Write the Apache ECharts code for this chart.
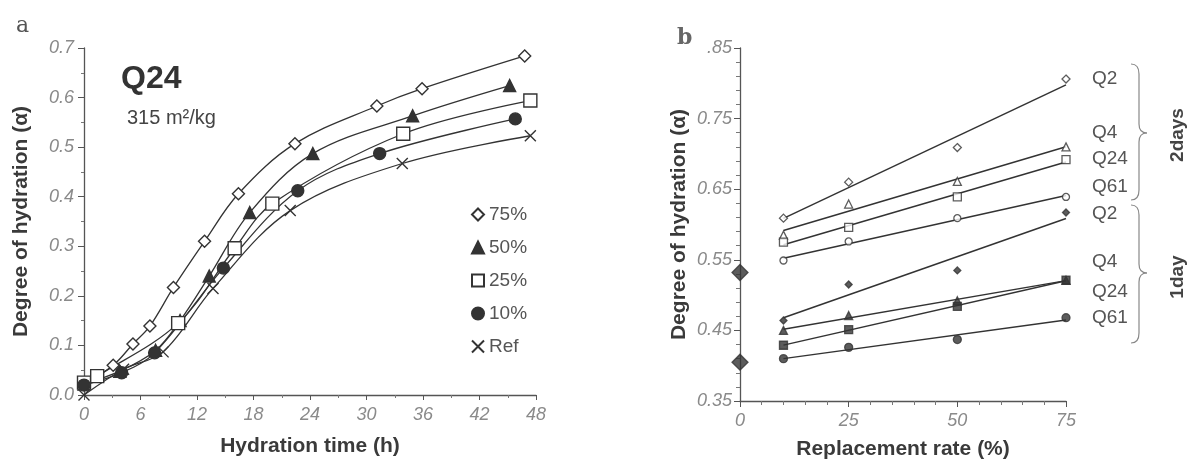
<!DOCTYPE html>
<html>
<head>
<meta charset="utf-8">
<script src="https://cdn.jsdelivr.net/npm/echarts@6/dist/echarts.min.js"></script>
<style>
  html, body { margin: 0; padding: 0; background: #fff; }
  #chart { width: 1200px; height: 469px; }
</style>
</head>
<body>
<div id="chart"></div>
<script>
// panel a: hydration time (h) vs degree of hydration, Q24 cement
const t75 = [0, 3.1, 5.2, 7.0, 9.5, 12.8, 16.4, 22.4, 31.1, 35.9, 46.8]
const a75 = [0.022, 0.06, 0.103, 0.139, 0.217, 0.31, 0.406, 0.507, 0.583, 0.618, 0.684]
const t50 = [0, 3.8, 7.6, 10.2, 13.3, 17.6, 24.3, 34.9, 45.2]
const a50 = [0.022, 0.048, 0.09, 0.15, 0.24, 0.368, 0.487, 0.563, 0.624]
const t25 = [0, 1.4, 10, 16, 20, 33.9, 47.4]
const a25 = [0.025, 0.038, 0.145, 0.296, 0.386, 0.527, 0.594]
const t10 = [0, 4, 7.5, 14.8, 22.7, 31.4, 45.8]
const a10 = [0.02, 0.045, 0.085, 0.256, 0.412, 0.487, 0.557]
const tRef = [0, 4.2, 8.4, 13.7, 21.9, 33.8, 47.4]
const aRef = [0, 0.052, 0.087, 0.215, 0.372, 0.467, 0.523]

// panel b: replacement rate (%) vs degree of hydration
const rates = [10, 25, 50, 75]
const q2Days2 = [0.609, 0.66, 0.709, 0.806]
const q4Days2 = [0.585, 0.629, 0.661, 0.71]
const q24Days2 = [0.575, 0.596, 0.639, 0.692]
const q61Days2 = [0.549, 0.576, 0.609, 0.639]
const q2Day1 = [0.464, 0.515, 0.535, 0.617]
const q4Day1 = [0.45, 0.471, 0.492, 0.521]
const q24Day1 = [0.429, 0.451, 0.484, 0.521]
const q61Day1 = [0.41, 0.426, 0.437, 0.468]
const refPoints = [0.532, 0.405]

const FONT = '"Liberation Sans", Arial, sans-serif'
const INK = '#333'
const TICK = '#8a8a8a'

const pairs = (xs, ys) => xs.map((x, i) => [x, ys[i]])

function fitLine(xs, ys) {
  const n = xs.length
  const mx = xs.reduce((s, v) => s + v, 0) / n
  const my = ys.reduce((s, v) => s + v, 0) / n
  let sxy = 0, sxx = 0
  xs.forEach((x, i) => { sxy += (x - mx) * (ys[i] - my); sxx += (x - mx) ** 2 })
  const k = sxy / sxx
  const x0 = xs[0], x1 = xs[n - 1]
  return [[x0, my + k * (x0 - mx)], [x1, my + k * (x1 - mx)]]
}

const xPath = 'path://M0,0L10,10M10,0L0,10'

const axisLabelStyle = { color: TICK, fontStyle: 'italic', fontSize: 18, fontFamily: FONT }
const axisNameStyle = { color: '#3a3a3a', fontWeight: 'bold', fontSize: 21, fontFamily: FONT }

function curve(name, xs, ys, symbol, size, filled) {
  return {
    name, type: 'line', xAxisIndex: 0, yAxisIndex: 0,
    data: pairs(xs, ys), smooth: 0.35, clip: false,
    symbol, symbolSize: size, showAllSymbol: true,
    lineStyle: { color: INK, width: 1.3 },
    itemStyle: { color: filled ? INK : (symbol === xPath ? 'transparent' : '#fff'), borderColor: INK, borderWidth: 1.4 },
    z: 3
  }
}

function points(xs, ys, symbol, size, filled) {
  return {
    type: 'scatter', xAxisIndex: 1, yAxisIndex: 1,
    data: pairs(xs, ys), symbol, symbolSize: size,
    itemStyle: { color: filled ? INK : '#fff', borderColor: INK, borderWidth: 1.3 },
    z: 4
  }
}

function fit(label, xs, ys, dy) {
  return {
    type: 'line', xAxisIndex: 1, yAxisIndex: 1,
    data: fitLine(xs, ys), symbol: 'none',
    lineStyle: { color: INK, width: 1.5 },
    endLabel: {
      show: true, formatter: label, offset: [18, dy],
      color: '#555', fontSize: 19, fontFamily: FONT
    },
    z: 2
  }
}

// curly brace drawn from curves and lines
function brace(x, top, tip, bottom) {
  const s = { fill: 'none', stroke: '#888', lineWidth: 1.2 }
  const b = x + 8, t = x + 16
  return {
    type: 'group', silent: true,
    children: [
      { type: 'bezierCurve', shape: { x1: x, y1: top, cpx1: b, cpy1: top, x2: b, y2: top + 10 }, style: s },
      { type: 'line', shape: { x1: b, y1: top + 10, x2: b, y2: tip - 9 }, style: s },
      { type: 'bezierCurve', shape: { x1: b, y1: tip - 9, cpx1: b, cpy1: tip, x2: t, y2: tip }, style: s },
      { type: 'bezierCurve', shape: { x1: t, y1: tip, cpx1: b, cpy1: tip, x2: b, y2: tip + 9 }, style: s },
      { type: 'line', shape: { x1: b, y1: tip + 9, x2: b, y2: bottom - 10 }, style: s },
      { type: 'bezierCurve', shape: { x1: b, y1: bottom - 10, cpx1: b, cpy1: bottom, x2: x, y2: bottom }, style: s }
    ]
  }
}

const chart = echarts.init(document.getElementById('chart'))

chart.setOption({
  backgroundColor: '#fff',
  animation: false,
  textStyle: { fontFamily: FONT },
  title: [
    { text: 'a', left: 11, top: 10, textStyle: { fontFamily: 'DejaVu Serif, serif', fontSize: 22, fontWeight: 'normal', color: '#555' } },
    { text: 'b', left: 672, top: 22, textStyle: { fontFamily: 'DejaVu Serif, serif', fontSize: 22, fontWeight: 'bold', color: '#666' } },
    { text: 'Q24', left: 116, top: 58, textStyle: { fontSize: 32, fontWeight: 'bold', color: '#333', fontFamily: FONT } },
    { text: '315 m²/kg', left: 122, top: 103, textStyle: { fontSize: 20, fontWeight: 'normal', color: '#444', fontFamily: FONT } }
  ],
  legend: {
    orient: 'vertical', left: 466, top: 200, itemGap: 14,
    itemWidth: 12, itemHeight: 12,
    textStyle: { color: '#555', fontSize: 19, fontFamily: FONT },
    data: [
      { name: '75%', icon: 'diamond' },
      { name: '50%', icon: 'triangle' },
      { name: '25%', icon: 'rect' },
      { name: '10%', icon: 'circle' },
      { name: 'Ref', icon: xPath }
    ]
  },
  grid: [
    { left: 84, top: 48, width: 452, height: 347 },
    { left: 740, top: 48, width: 326, height: 353 }
  ],
  xAxis: [
    {
      gridIndex: 0, type: 'value', min: 0, max: 48, interval: 6,
      name: 'Hydration time (h)', nameLocation: 'middle', nameGap: 41, nameTextStyle: axisNameStyle,
      axisLine: { lineStyle: { color: '#555', width: 1.3 } },
      axisTick: { inside: false, length: 5, lineStyle: { color: '#555' } },
      minorTick: { show: true, splitNumber: 2, length: 3, lineStyle: { color: '#777' } },
      axisLabel: { ...axisLabelStyle, margin: 11 },
      splitLine: { show: false }
    },
    {
      gridIndex: 1, type: 'value', min: 0, max: 75, interval: 25,
      name: 'Replacement rate (%)', nameLocation: 'middle', nameGap: 38, nameTextStyle: axisNameStyle,
      axisLine: { lineStyle: { color: '#555', width: 1.3 } },
      axisTick: { length: 6, lineStyle: { color: '#555' } },
      minorTick: { show: true, splitNumber: 5, length: 4, lineStyle: { color: '#777' } },
      axisLabel: { ...axisLabelStyle, margin: 11 },
      splitLine: { show: false }
    }
  ],
  yAxis: [
    {
      gridIndex: 0, type: 'value', min: 0, max: 0.7, interval: 0.1,
      name: 'Degree of hydration (α)', nameLocation: 'middle', nameGap: 52, nameTextStyle: axisNameStyle,
      axisLine: { show: true, lineStyle: { color: '#555', width: 1.3 } },
      axisTick: { show: true, length: 6, inside: false, lineStyle: { color: '#555' } },
      minorTick: { show: true, splitNumber: 2, length: 3, lineStyle: { color: '#777' } },
      axisLabel: { ...axisLabelStyle, margin: 10, formatter: v => v.toFixed(1) },
      splitLine: { show: false }
    },
    {
      gridIndex: 1, type: 'value', min: 0.35, max: 0.85, interval: 0.1,
      name: 'Degree of hydration (α)', nameLocation: 'middle', nameGap: 50, nameTextStyle: axisNameStyle,
      axisLine: { show: true, lineStyle: { color: '#555', width: 1.3 } },
      axisTick: { show: true, length: 6, lineStyle: { color: '#555' } },
      minorTick: { show: true, splitNumber: 5, length: 4, lineStyle: { color: '#777' } },
      axisLabel: {
        ...axisLabelStyle, margin: 8,
        formatter: v => (Math.round(v * 100) === 85 ? '.85' : (Math.round(v * 100) / 100).toFixed(2))
      },
      splitLine: { show: false }
    }
  ],
  graphic: [
    brace(1131, 64, 133, 200),
    brace(1131, 205, 273, 343),
    {
      type: 'text', x: 1178, y: 135, rotation: Math.PI / 2, silent: true,
      style: { text: '2days', fill: '#444', font: 'bold 19px ' + FONT, align: 'center', verticalAlign: 'middle' }
    },
    {
      type: 'text', x: 1178, y: 277, rotation: Math.PI / 2, silent: true,
      style: { text: '1day', fill: '#444', font: 'bold 19px ' + FONT, align: 'center', verticalAlign: 'middle' }
    }
  ],
  series: [
    curve('75%', t75, a75, 'diamond', 12, false),
    curve('50%', t50, a50, 'triangle', 12, true),
    curve('25%', t25, a25, 'rect', 13, false),
    curve('10%', t10, a10, 'circle', 12, true),
    curve('Ref', tRef, aRef, xPath, 11, false),

    fit('Q2', rates, q2Days2, -6),
    fit('Q4', rates, q4Days2, -14),
    fit('Q24', rates, q24Days2, -3),
    fit('Q61', rates, q61Days2, -9),
    fit('Q2', rates, q2Day1, -5),
    fit('Q4', rates, q4Day1, -19),
    fit('Q24', rates, q24Day1, 11),
    fit('Q61', rates, q61Day1, -2),

    points(rates, q2Days2, 'diamond', 8, false),
    points(rates, q4Days2, 'triangle', 8, false),
    points(rates, q24Days2, 'rect', 8, false),
    points(rates, q61Days2, 'circle', 7, false),
    points(rates, q2Day1, 'diamond', 7, true),
    points(rates, q4Day1, 'triangle', 8, true),
    points(rates, q24Day1, 'rect', 8, true),
    points(rates, q61Day1, 'circle', 8, true),
    points([0, 0], refPoints, 'diamond', 16, true)
  ]
})
</script>
</body>
</html>
